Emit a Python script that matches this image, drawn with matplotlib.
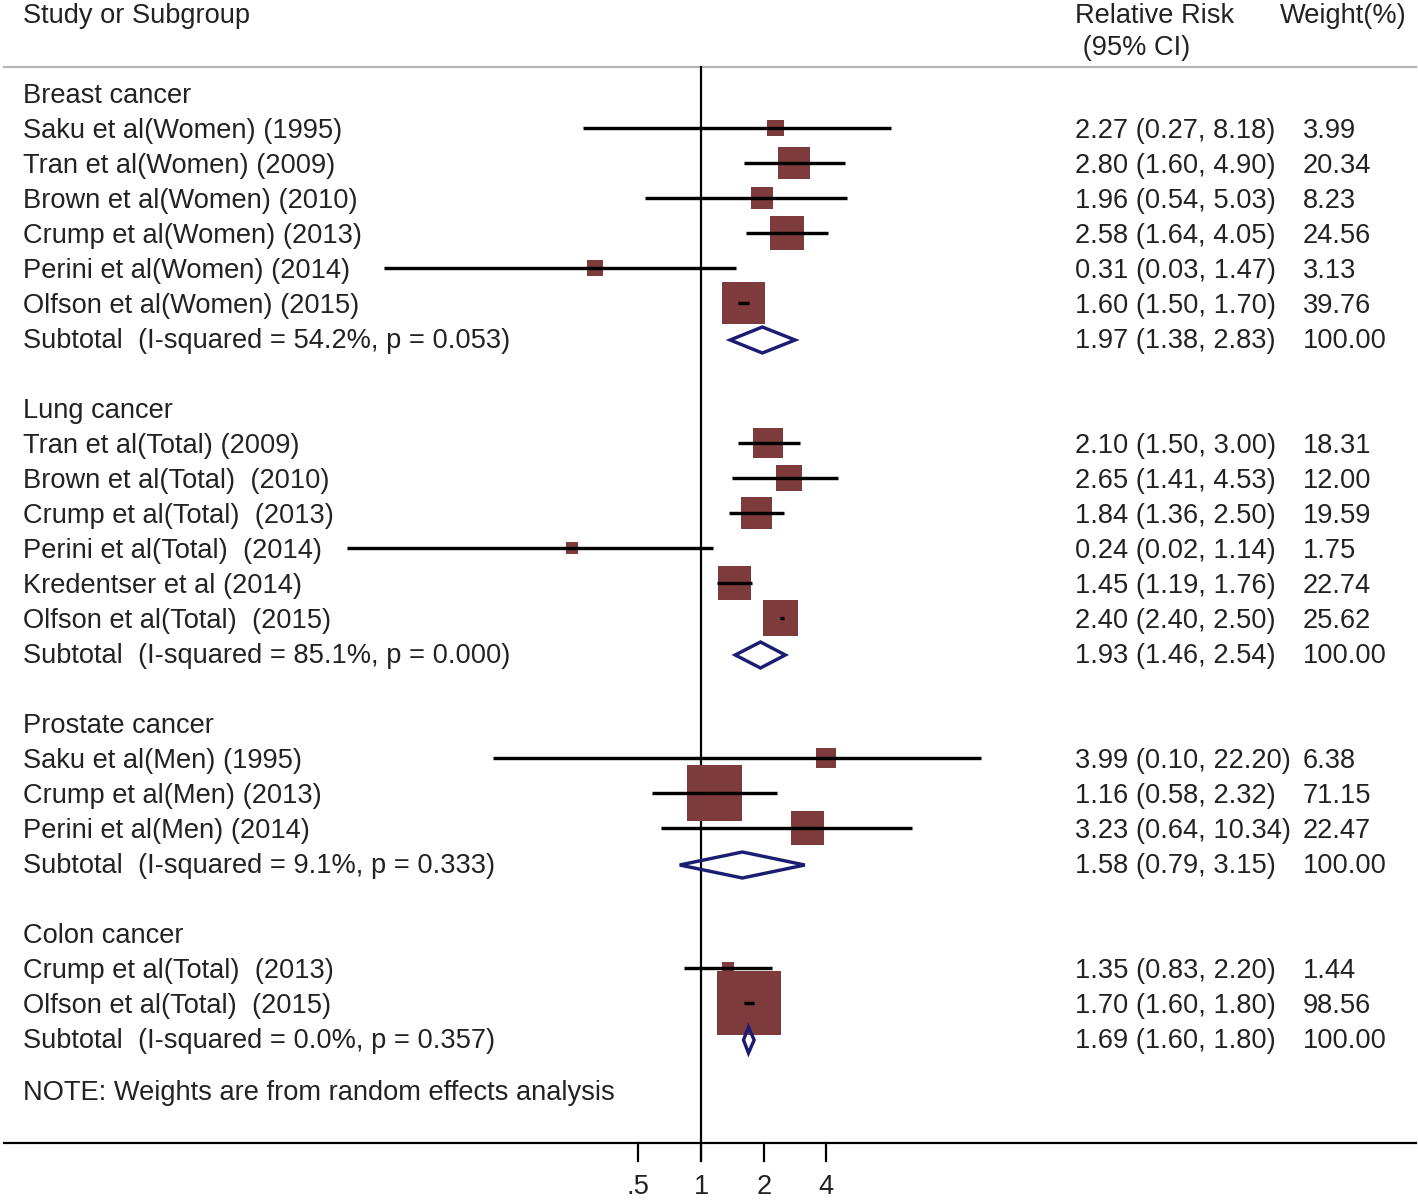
import numpy as np
import matplotlib
matplotlib.use("Agg")
import matplotlib.pyplot as plt
from matplotlib.patches import Polygon

plt.rcParams['font.family'] = ['Liberation Sans', 'DejaVu Sans']

# Data
groups = ["Breast cancer", "Lung cancer", "Prostate cancer", "Colon cancer"]

study_labels = [
    ["Saku et al(Women) (1995)", "Tran et al(Women) (2009)", "Brown et al(Women) (2010)",
     "Crump et al(Women) (2013)", "Perini et al(Women) (2014)", "Olfson et al(Women) (2015)"],
    ["Tran et al(Total) (2009)", "Brown et al(Total)  (2010)", "Crump et al(Total)  (2013)",
     "Perini et al(Total)  (2014)", "Kredentser et al (2014)", "Olfson et al(Total)  (2015)"],
    ["Saku et al(Men) (1995)", "Crump et al(Men) (2013)", "Perini et al(Men) (2014)"],
    ["Crump et al(Total)  (2013)", "Olfson et al(Total)  (2015)"],
]
rr = [[2.27, 2.80, 1.96, 2.58, 0.31, 1.60],
      [2.10, 2.65, 1.84, 0.24, 1.45, 2.40],
      [3.99, 1.16, 3.23],
      [1.35, 1.70]]
lo = [[0.27, 1.60, 0.54, 1.64, 0.03, 1.50],
      [1.50, 1.41, 1.36, 0.02, 1.19, 2.40],
      [0.10, 0.58, 0.64],
      [0.83, 1.60]]
hi = [[8.18, 4.90, 5.03, 4.05, 1.47, 1.70],
      [3.00, 4.53, 2.50, 1.14, 1.76, 2.50],
      [22.20, 2.32, 10.34],
      [2.20, 1.80]]
weights = [["3.99", "20.34", "8.23", "24.56", "3.13", "39.76"],
           ["18.31", "12.00", "19.59", "1.75", "22.74", "25.62"],
           ["6.38", "71.15", "22.47"],
           ["1.44", "98.56"]]
sub_het = ["Subtotal  (I-squared = 54.2%, p = 0.053)",
           "Subtotal  (I-squared = 85.1%, p = 0.000)",
           "Subtotal  (I-squared = 9.1%, p = 0.333)",
           "Subtotal  (I-squared = 0.0%, p = 0.357)"]
sub_rr = [1.97, 1.93, 1.58, 1.69]
sub_lo = [1.38, 1.46, 0.79, 1.60]
sub_hi = [2.83, 2.54, 3.15, 1.80]
ticks = [0.5, 1, 2, 4]
tick_labels = [".5", "1", "2", "4"]

W, H = 1418, 1200
fig = plt.figure(figsize=(W / 100, H / 100), dpi=100)

# text/lines layer in pixel units
tx = fig.add_axes([0, 0, 1, 1])
tx.set_xlim(0, W)
tx.set_ylim(H, 0)
tx.axis('off')

# marks layer: log scale, 1 at px 701, ~62.7 px per doubling
ax = fig.add_axes([0, 0, 1, 1])
ax.set_xscale('log', base=2)
ax.set_xlim(2 ** ((0 - 701) / 62.7), 2 ** ((W - 701) / 62.7))
ax.set_ylim(H, 0)
ax.axis('off')

fs = 19.6
txt_color = '#222222'
sq_color = '#7E3B3B'
dia_color = '#1C1C72'
px = 0.72  # points per pixel

def put(x, y, s, **kw):
    tx.text(x, y, s, fontsize=fs, color=txt_color, va='baseline', ha='left', **kw)

# header
put(23, 23, "Study or Subgroup")
put(1075, 23, "Relative Risk")
put(1075, 55, " (95% CI)")
put(1280, 23, "Weight(%)")
tx.plot([4, W - 2], [67, 67], color='#b5b5b5', lw=2.2 * px)

# null line and axis
ax.plot([1, 1], [67, 1160], color='black', lw=2.2 * px, zorder=1)
tx.plot([4, W - 2], [1143, 1143], color='black', lw=2.2 * px)
for t, tl in zip(ticks, tick_labels):
    ax.plot([t, t], [1143, 1161], color='black', lw=2.2 * px)
    ax.text(t, 1194, tl, fontsize=fs, color=txt_color, ha='center', va='baseline')

row = 0
step = 35
y0 = 95
for g in range(len(groups)):
    y = y0 + row * step
    put(23, y + 8, groups[g])
    row += 1
    for i in range(len(study_labels[g])):
        y = y0 + row * step
        yl = y - 2
        put(23, y + 8, study_labels[g][i])
        put(1075, y + 8, f"{rr[g][i]:.2f} ({lo[g][i]:.2f}, {hi[g][i]:.2f})")
        put(1303, y + 8, weights[g][i])
        side = 4.85 + 5.96 * np.sqrt(float(weights[g][i]))
        ax.scatter([rr[g][i]], [yl], marker='s', s=(side * px) ** 2,
                   color=sq_color, edgecolors='none', zorder=2)
        ax.plot([lo[g][i], hi[g][i]], [yl, yl], color='black', lw=3.4 * px,
                solid_capstyle='butt', zorder=3)
        row += 1
    y = y0 + row * step
    put(23, y + 8, sub_het[g])
    put(1075, y + 8, f"{sub_rr[g]:.2f} ({sub_lo[g]:.2f}, {sub_hi[g]:.2f})")
    put(1303, y + 8, "100.00")
    yd = y
    ax.add_patch(Polygon([(sub_lo[g], yd), (sub_rr[g], yd - 13), (sub_hi[g], yd), (sub_rr[g], yd + 13)],
                         closed=True, fill=False, edgecolor=dia_color, lw=3.4 * px,
                         joinstyle='miter', zorder=4))
    row += 2

put(23, 1100, "NOTE: Weights are from random effects analysis")

fig.savefig("out.png", dpi=100)
